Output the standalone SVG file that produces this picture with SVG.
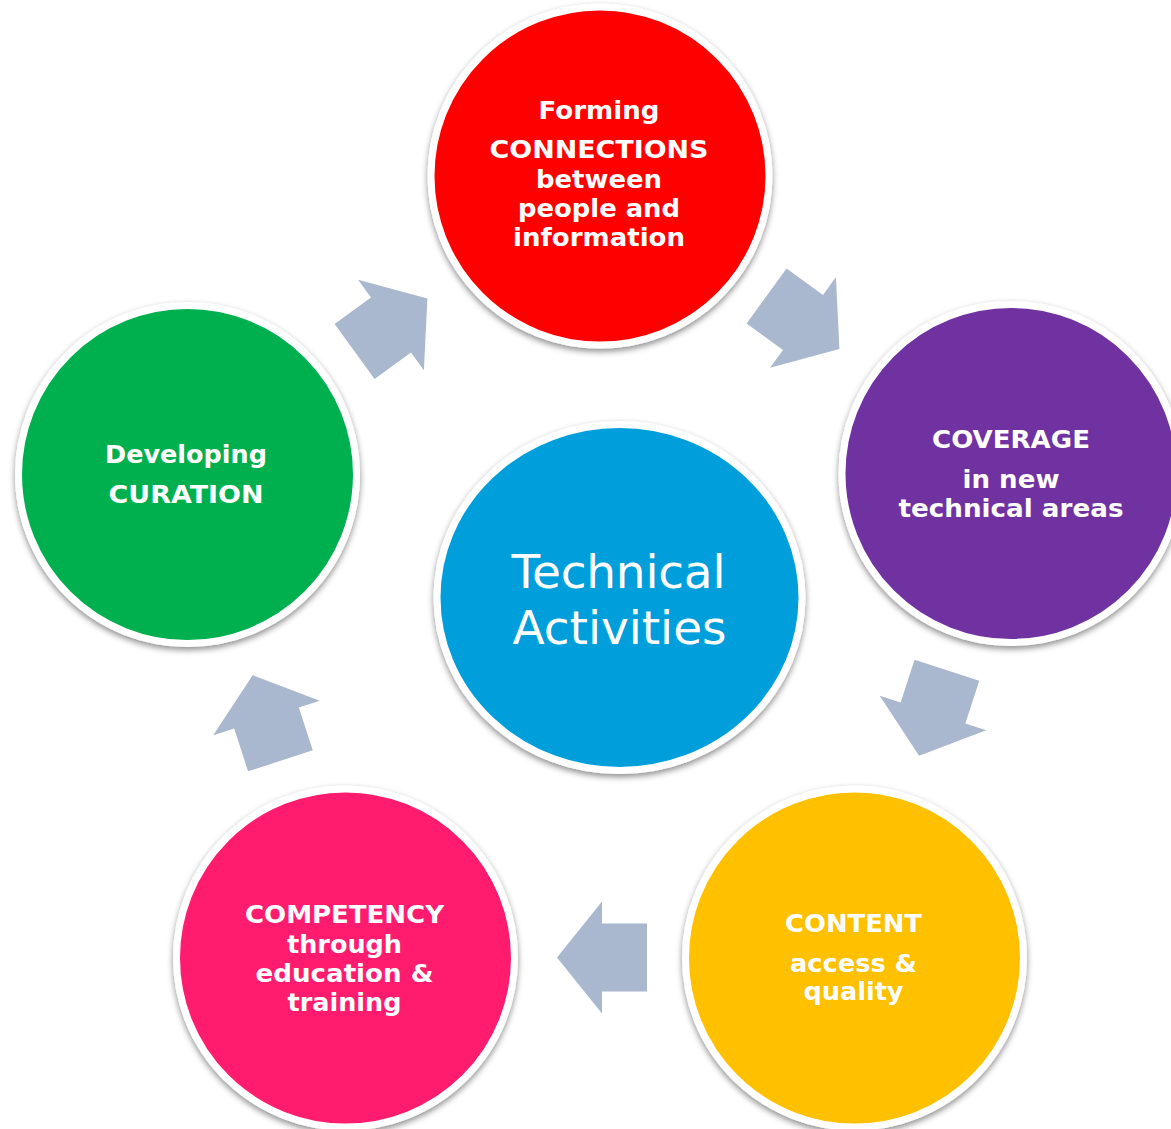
<svg xmlns="http://www.w3.org/2000/svg" width="1171" height="1129" viewBox="0 0 1171 1129">
<style>
.ring{stroke:#ffffff;stroke-width:7;filter:url(#sh)}
.lbl{font-family:Verdana,"DejaVu Sans",sans-serif;font-weight:bold;font-size:25px;fill:#ffffff;text-anchor:middle}
.big{font-family:Verdana,"DejaVu Sans",sans-serif;font-weight:normal;font-size:47px;fill:#ffffff;text-anchor:middle}
.arr{fill:#A9B8CE}
</style>
<defs>
<filter id="sh" x="-10%" y="-10%" width="120%" height="125%">
<feDropShadow dx="0" dy="3" stdDeviation="3" flood-color="#000000" flood-opacity="0.45"/>
</filter>
<path id="arrow" d="M-45,-34 H0 V-56 L45,0 L0,56 V34 H-45 Z"/>
</defs>
<rect width="1171" height="1129" fill="#ffffff"/>

<g id="connectors">
<use href="#arrow" class="arr" transform="translate(391,325) rotate(-36)"/>
<use href="#arrow" class="arr" transform="translate(803,322.5) rotate(36)"/>
<use href="#arrow" class="arr" transform="translate(933,713) rotate(108)"/>
<use href="#arrow" class="arr" transform="translate(602,957.5) rotate(180)"/>
<use href="#arrow" class="arr" transform="translate(266.5,718) rotate(252)"/>
</g>

<g id="node-connections">
<circle class="ring" cx="600" cy="176" r="169" fill="#FF0000"/>
<text class="lbl" x="599" y="119" textLength="121" lengthAdjust="spacingAndGlyphs">Forming</text>
<text class="lbl" x="599" y="158" textLength="219" lengthAdjust="spacingAndGlyphs">CONNECTIONS</text>
<text class="lbl" x="599" y="188" textLength="126" lengthAdjust="spacingAndGlyphs">between</text>
<text class="lbl" x="599" y="217" textLength="162" lengthAdjust="spacingAndGlyphs">people and</text>
<text class="lbl" x="599" y="246" textLength="172" lengthAdjust="spacingAndGlyphs">information</text>
</g>

<g id="node-coverage">
<circle class="ring" cx="1011" cy="473.5" r="169" fill="#7030A0"/>
<text class="lbl" x="1011" y="448" textLength="158" lengthAdjust="spacingAndGlyphs">COVERAGE</text>
<text class="lbl" x="1011" y="488" textLength="97" lengthAdjust="spacingAndGlyphs">in new</text>
<text class="lbl" x="1011" y="517" textLength="225" lengthAdjust="spacingAndGlyphs">technical areas</text>
</g>

<g id="node-content">
<circle class="ring" cx="854.5" cy="958" r="169" fill="#FFC000"/>
<text class="lbl" x="853.5" y="932" textLength="137" lengthAdjust="spacingAndGlyphs">CONTENT</text>
<text class="lbl" x="853.5" y="972" textLength="127" lengthAdjust="spacingAndGlyphs">access &amp;</text>
<text class="lbl" x="853.5" y="1000" textLength="100" lengthAdjust="spacingAndGlyphs">quality</text>
</g>

<g id="node-competency">
<circle class="ring" cx="345.5" cy="958" r="169" fill="#FF1C6E"/>
<text class="lbl" x="344.5" y="923" textLength="199" lengthAdjust="spacingAndGlyphs">COMPETENCY</text>
<text class="lbl" x="344.5" y="953" textLength="115" lengthAdjust="spacingAndGlyphs">through</text>
<text class="lbl" x="344.5" y="982" textLength="178" lengthAdjust="spacingAndGlyphs">education &amp;</text>
<text class="lbl" x="344.5" y="1011" textLength="114" lengthAdjust="spacingAndGlyphs">training</text>
</g>

<g id="node-curation">
<circle class="ring" cx="187.5" cy="474.5" r="169" fill="#00B050"/>
<text class="lbl" x="186" y="463" textLength="162" lengthAdjust="spacingAndGlyphs">Developing</text>
<text class="lbl" x="186" y="503" textLength="155" lengthAdjust="spacingAndGlyphs">CURATION</text>
</g>

<g id="node-center">
<ellipse class="ring" cx="619.5" cy="597.5" rx="182.5" ry="173" fill="#009FDB"/>
<text class="big" x="618.5" y="588" textLength="214">Technical</text>
<text class="big" x="619.5" y="644" textLength="214">Activities</text>
</g>
</svg>
